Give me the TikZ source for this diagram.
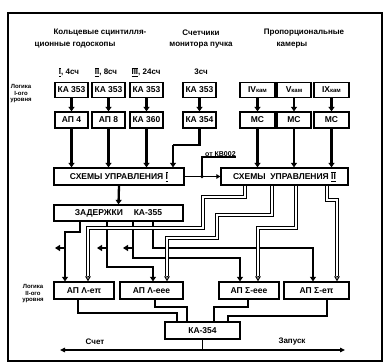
\documentclass[tikz,border=0pt]{standalone}
\usepackage{fontspec}
\setmainfont{Liberation Sans}
\usetikzlibrary{arrows.meta}
\newcommand{\rnum}[1]{$\overline{\underline{\mbox{#1}}}$}
\begin{document}
\begin{tikzpicture}[x=1pt,y=-1pt,
  box/.style={draw,line width=1.3pt,inner sep=0pt,font=\bfseries\fontsize{8.5}{9}\selectfont},
  hdr/.style={inner sep=0pt,font=\bfseries\fontsize{8}{9}\selectfont},
  side/.style={inner sep=0pt,align=center,font=\bfseries\fontsize{6}{6.5}\selectfont},
  fat/.style={line width=2.3pt,-{Triangle[length=4.5pt,width=6pt]}},
  fatline/.style={line width=2.2pt},
  bundle/.style={draw=black,line width=1.1pt,double=white,double distance=1.5pt},
  openhead/.style={line width=1pt,-{Triangle[open,length=5pt,width=5.5pt]}},
  stub/.style={line width=2pt,-{Triangle[length=5pt,width=6pt]}},
  wire/.style={line width=1.1pt}
]
\useasboundingbox (0,0) rectangle (384,364);
\draw[line width=1.2pt] (8,13) rectangle (382,361);

% headings
\node[hdr] (h1a) at (100,33) {Кольцевые сцинтилля-};
\node[hdr] (h1b) at (75,45) {ционные годоскопы};
\node[hdr] (h2a) at (201,33) {Счетчики};
\node[hdr] (h2b) at (201,45) {монитора пучка};
\node[hdr] (h3a) at (304,33) {Пропорциональные};
\node[hdr] (h3b) at (292,45) {камеры};

\node[side] (lg1) at (21,94) {Логика\\I-ого\\уровня};
\node[side] (lg2) at (33,294) {Логика\\II-ого\\уровня};

% counters labels
\node[hdr] (n1) at (69,72) {\rnum{I}, 4сч};
\node[hdr] (n2) at (106,72) {\rnum{II}, 8сч};
\node[hdr] (n3) at (146,72) {\rnum{III}, 24сч};
\node[hdr] (n4) at (201,72) {3сч};

% row 1
\node[box,minimum width=33pt,minimum height=15pt] (b1) at (71.5,90) {КА 353};
\node[box,minimum width=33pt,minimum height=15pt] (b2) at (108.5,90) {КА 353};
\node[box,minimum width=33pt,minimum height=15pt] (b3) at (146.5,90) {КА 353};
\node[box,minimum width=33pt,minimum height=15pt] (b4) at (199.5,90) {КА 353};
\node[box,minimum width=35pt,minimum height=15pt] (c1) at (257.5,90) {IV{\fontsize{6}{6}\selectfont кам}};
\node[box,minimum width=34pt,minimum height=15pt] (c2) at (294,90) {V{\fontsize{6}{6}\selectfont кам}};
\node[box,minimum width=35pt,minimum height=15pt] (c3) at (331.5,90) {IX{\fontsize{6}{6}\selectfont кам}};

% row 2
\node[box,minimum width=33pt,minimum height=16pt] (a1) at (71.5,120) {АП 4};
\node[box,minimum width=33pt,minimum height=16pt] (a2) at (108.5,120) {АП 8};
\node[box,minimum width=33pt,minimum height=16pt] (a3) at (146.5,120) {КА 360};
\node[box,minimum width=33pt,minimum height=16pt] (a4) at (199.5,120) {КА 354};
\node[box,minimum width=35pt,minimum height=16pt] (m1) at (257.5,120) {МС};
\node[box,minimum width=34pt,minimum height=16pt] (m2) at (294,120) {МС};
\node[box,minimum width=35pt,minimum height=16pt] (m3) at (331.5,120) {МС};

% control, delay
\node[box,minimum width=130pt,minimum height=17pt] (s1) at (119,176.5) {СХЕМЫ УПРАВЛЕНИЯ \rnum{I}};
\node[box,minimum width=127pt,minimum height=17pt] (s2) at (284.5,176.5) {СХЕМЫ\ \ УПРАВЛЕНИЯ \rnum{II}};
\node[box,minimum width=129pt,minimum height=16pt] (z) at (118.5,213) {ЗАДЕРЖКИ\quad\ КА-355};

% second level
\node[box,minimum width=60pt,minimum height=17pt] (l1) at (84,290.5) {АП Λ-eπ};
\node[box,minimum width=63pt,minimum height=17pt] (l2) at (151.5,290.5) {АП Λ-eee};
\node[box,minimum width=60pt,minimum height=17pt] (r1) at (249,290.5) {АП Σ-eee};
\node[box,minimum width=65pt,minimum height=17pt] (r2) at (316.5,290.5) {АП Σ-eπ};
\node[box,minimum width=75pt,minimum height=17pt] (k) at (202.5,330.5) {КА-354};

% row1 -> row2
\foreach \u/\v in {b1/a1,b2/a2,b3/a3,b4/a4,c1/m1,c2/m2,c3/m3}
  \draw[fat] (\u.south) -- (\v.north);
% row2 -> control
\foreach \u in {a1,a2,a3}
  \draw[fat] (\u.south) -- (\u.south |- s1.north);
\foreach \u in {m1,m2,m3}
  \draw[fat] (\u.south) -- (\u.south |- s2.north);
\draw[fatline] (a4.south) |- (173,145);
\draw[fat] (173,145) -- ([xshift=54pt]s1.north);

% control I -> control II, external input
\coordinate (j) at (202,176.5);
\draw[wire,-{Triangle[length=4pt,width=4.5pt]}] (s1.east) -- (s2.west);
\fill (j) circle (1.8pt);
\node[inner sep=0pt,anchor=south west,font=\bfseries\fontsize{7}{7}\selectfont] (kv) at (205,157) {от КВ002};
\draw[wire] (j) |- (kv.south east);

% control I -> delays
\draw[fat] (s1.south) -- (z.north);

% delay outputs (solid)
\draw[fatline] ([xshift=-38.5pt]z.south) |- (65,232) -- (65,278);
\draw[fat] (65,276) -- ([xshift=-19pt]l1.north);
\draw[fatline] ([xshift=-11.5pt]z.south) |- (153,267) -- (153,277);
\draw[fat] (153,276) -- ([xshift=1.5pt]l2.north);
\draw[fatline] ([xshift=14.5pt]z.south) |- (240,258) -- (240,277);
\draw[fat] (240,276) -- ([xshift=-9pt]r1.north);
\draw[fatline] ([xshift=34.5pt]z.south) |- (313,248) -- (313,277);
\draw[fat] (313,276) -- ([xshift=-3.5pt]r2.north);
\draw[stub] (65,248) -- (55,248);
\draw[stub] (107,248) -- (97,248);
\draw[stub] (133,248) -- (123,248);

% control II outputs (bundles)
\draw[bundle] ([xshift=-39.5pt]s2.south) |- (203,197) |- (88,228) -- (88,276);
\draw[openhead] (88,276) -- ([xshift=4pt]l1.north);
\draw[bundle] ([xshift=-12.5pt]s2.south) |- (217,215) |- (167,238) -- (167,276);
\draw[openhead] (167,276) -- ([xshift=15.5pt]l2.north);
\draw[bundle] ([xshift=11.5pt]s2.south) |- (258,228) -- (258,276);
\draw[openhead] (258,276) -- ([xshift=9pt]r1.north);
\draw[bundle] ([xshift=42.5pt]s2.south) |- (337,200) -- (337,276);
\draw[openhead] (337,276) -- ([xshift=20.5pt]r2.north);

% second level -> КА-354
\draw[wire] ([xshift=-6pt]l1.south) |- (177,313) -- ([xshift=-25.5pt]k.north);
\draw[wire] ([xshift=3.5pt]l2.south) |- (187,307) -- ([xshift=-15.5pt]k.north);
\draw[wire] ([xshift=-1pt]r1.south) |- (214,307) -- ([xshift=11.5pt]k.north);
\draw[wire] ([xshift=10.5pt]r2.south) |- (228,316) -- ([xshift=25.5pt]k.north);

% outputs
\coordinate (sl) at (60,350);
\coordinate (zr) at (345,350);
\draw[wire,{Triangle[length=5pt,width=4.5pt]}-{Triangle[length=5pt,width=4.5pt]}] (sl) -- (zr);
\draw[wire] (k.south) -- (k.south |- sl);
\node[hdr] (sch) at (95,342) {Счет};
\node[hdr] (zap) at (292,342) {Запуск};
\end{tikzpicture}
\end{document}
